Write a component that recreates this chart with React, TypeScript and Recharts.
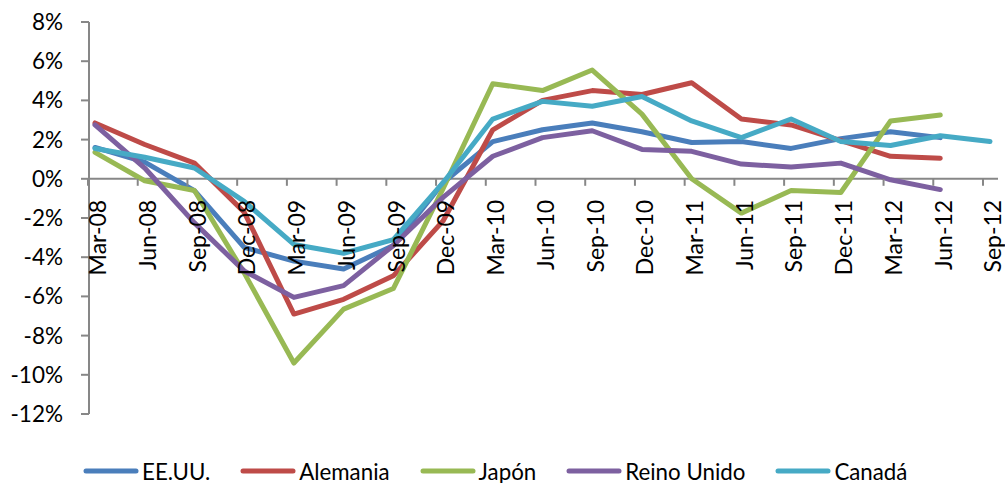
import React from "react";
import { LineChart, Line, XAxis, YAxis, ReferenceLine } from "recharts";

const categories = [
  "Mar-08", "Jun-08", "Sep-08", "Dec-08", "Mar-09", "Jun-09", "Sep-09", "Dec-09",
  "Mar-10", "Jun-10", "Sep-10", "Dec-10", "Mar-11", "Jun-11", "Sep-11", "Dec-11",
  "Mar-12", "Jun-12", "Sep-12",
];

const eeuu = [1.6, 0.85, -0.6, -3.5, -4.2, -4.6, -3.4, -0.2, 1.9, 2.5, 2.85, 2.4, 1.85, 1.9, 1.55, 2.05, 2.4, 2.1, null];
const alemania = [2.85, 1.75, 0.8, -1.7, -6.9, -6.15, -4.95, -2.15, 2.5, 4.0, 4.5, 4.3, 4.9, 3.05, 2.75, 1.95, 1.15, 1.05, null];
const japon = [1.35, -0.1, -0.6, -4.8, -9.4, -6.65, -5.6, -0.5, 4.85, 4.5, 5.55, 3.3, 0.0, -1.75, -0.6, -0.7, 2.95, 3.25, null];
const reinoUnido = [2.75, 0.55, -2.25, -4.7, -6.05, -5.45, -3.4, -0.95, 1.15, 2.1, 2.45, 1.5, 1.4, 0.75, 0.6, 0.8, -0.05, -0.55, null];
const canada = [1.55, 1.1, 0.55, -1.15, -3.35, -3.8, -3.1, -0.2, 3.05, 3.95, 3.7, 4.2, 2.95, 2.1, 3.05, 1.9, 1.7, 2.2, 1.9];

const yTicks = [-12, -10, -8, -6, -4, -2, 0, 2, 4, 6, 8];

const series = [
  { key: "eeuu", name: "EE.UU.", color: "#4A7EBB", values: eeuu },
  { key: "alemania", name: "Alemania", color: "#BE4B48", values: alemania },
  { key: "japon", name: "Japón", color: "#98B954", values: japon },
  { key: "reino", name: "Reino Unido", color: "#7D60A0", values: reinoUnido },
  { key: "canada", name: "Canadá", color: "#46AAC5", values: canada },
];

const rows = categories.map((c, i) => {
  const r: any = { cat: c };
  series.forEach((s) => (r[s.key] = s.values[i]));
  return r;
});

const W = 1005;
const H = 483;
const X_AXIS_H = 20;
const MARGIN = { top: 22, right: 7, bottom: 69 - X_AXIS_H, left: 0 };
const Y_MIN = -12;
const Y_MAX = 8;
const PLOT_H = H - MARGIN.top - MARGIN.bottom - X_AXIS_H;
const ZERO_Y = MARGIN.top + (PLOT_H * (Y_MAX - 0)) / (Y_MAX - Y_MIN);
const AXIS = "#878787";
const FONT = "Lato, 'Open Sans', sans-serif";

const renderXTick = (props: any) => {
  const { x, payload, index } = props;
  const tx = x + 3;
  const ty = ZERO_Y + 21;
  return (
    <g key={`xt-${index}`}>
      <line x1={x - 7} x2={x - 7} y1={ZERO_Y} y2={ZERO_Y + 7} stroke={AXIS} strokeWidth={2} />
      <text
        x={tx}
        y={ty}
        transform={`rotate(-90, ${tx}, ${ty})`}
        textAnchor="end"
        dy="0.36em"
        fontSize={23}
        fontFamily={FONT}
        fill="#000"
      >
        {payload.value}
      </text>
    </g>
  );
};

export default function App() {
  return (
    <div style={{ position: "absolute", left: 0, top: 0, width: W, height: H, background: "#fff" }}>
      <LineChart width={W} height={H} data={rows} margin={MARGIN}>
        <YAxis
          type="number"
          domain={[Y_MIN, Y_MAX]}
          ticks={yTicks}
          interval={0}
          width={89}
          tickFormatter={(v: number) => `${v}%`}
          axisLine={{ stroke: AXIS, strokeWidth: 2 }}
          tickLine={{ stroke: AXIS, strokeWidth: 2 }}
          tickSize={8}
          tickMargin={18}
          tick={{ fill: "#000", fontSize: 22.5, fontFamily: FONT }}
        />
        <XAxis
          dataKey="cat"
          type="category"
          height={X_AXIS_H}
          axisLine={false}
          tickLine={false}
          interval={0}
          padding={{ left: 6, right: 8 }}
          tick={renderXTick}
        />
        <ReferenceLine y={0} stroke={AXIS} strokeWidth={2} />
        {series.map((s) => (
          <Line
            key={s.key}
            dataKey={s.key}
            name={s.name}
            stroke={s.color}
            strokeWidth={5}
            strokeLinejoin="round"
            strokeLinecap="round"
            dot={false}
            activeDot={false}
            isAnimationActive={false}
            connectNulls={false}
          />
        ))}
      </LineChart>
      <div
        style={{
          position: "absolute",
          left: 83,
          top: 457,
          height: 28,
          display: "flex",
          alignItems: "center",
          fontFamily: FONT,
          fontSize: 22.3,
          color: "#000",
          whiteSpace: "nowrap",
        }}
      >
        {series.map((s) => (
          <div key={s.key} style={{ display: "flex", alignItems: "center", marginRight: 30 }}>
            <svg width={56} height={8} style={{ display: "block" }}>
              <line x1={3} x2={53} y1={4} y2={4} stroke={s.color} strokeWidth={5} strokeLinecap="round" />
            </svg>
            <span style={{ marginLeft: 3 }}>{s.name}</span>
          </div>
        ))}
      </div>
    </div>
  );
}
